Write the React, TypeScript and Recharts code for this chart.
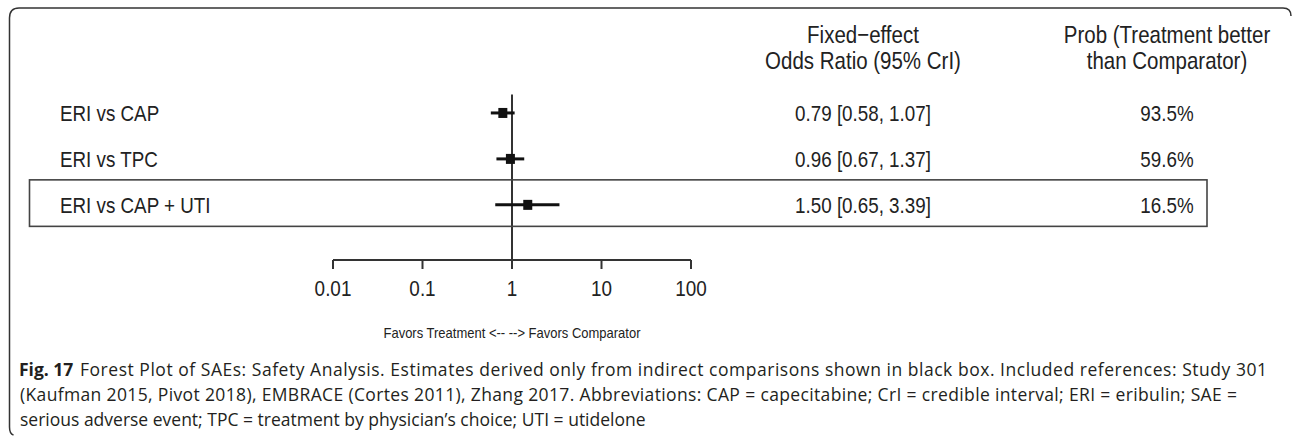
import React from 'react';
import { ScatterChart, Scatter, XAxis, YAxis, ErrorBar, ReferenceLine, Label } from 'recharts';

// ---------- data ----------
const comparisons = ['ERI vs CAP', 'ERI vs TPC', 'ERI vs CAP + UTI'];
const oddsRatios = [0.79, 0.96, 1.5];
const lowerCrI = [0.58, 0.67, 0.65];
const upperCrI = [1.07, 1.37, 3.39];
const probBetter = ['93.5%', '59.6%', '16.5%'];
const indirectOnly = [false, false, true];
const xTicks = [0.01, 0.1, 1, 10, 100];
const headerCI = ['Fixed\u2212effect', 'Odds Ratio (95% CrI)'];
const headerProb = ['Prob (Treatment better', 'than Comparator)'];
const axisLabel = 'Favors Treatment <-- --> Favors Comparator';
const captionBold = 'Fig. 17';
const captionLines = [
  'Forest Plot of SAEs: Safety Analysis. Estimates derived only from indirect comparisons shown in black box. Included references: Study 301',
  '(Kaufman 2015, Pivot 2018), EMBRACE (Cortes 2011), Zhang 2017. Abbreviations: CAP = capecitabine; CrI = credible interval; ERI = eribulin; SAE =',
  'serious adverse event; TPC = treatment by physician\u2019s choice; UTI = utidelone',
];

const fmt = (v: number) => v.toFixed(2);
const rows = comparisons.map((name, i) => ({
  name,
  x: oddsRatios[i],
  y: i + 1,
  err: [oddsRatios[i] - lowerCrI[i], upperCrI[i] - oddsRatios[i]],
  ci: `${fmt(oddsRatios[i])} [${fmt(lowerCrI[i])}, ${fmt(upperCrI[i])}]`,
  prob: probBetter[i],
  boxed: indirectOnly[i],
}));

// ---------- styles ----------
const ARIAL = '"Liberation Sans", Arial, sans-serif';
const CAPTION_FONT = '"Open Sans", "Noto Sans", sans-serif';
const INK = '#222';
const SY = 1.2;

const StretchText = ({ x, y, size, sy = SY, anchor = 'start', family = ARIAL, weight = 'normal', fill = INK, children }: any) => (
  <text
    transform={`translate(${x},${y}) scale(1,${sy})`}
    x={0}
    y={0}
    dy="0.355em"
    fontSize={size}
    fontFamily={family}
    fontWeight={weight}
    textAnchor={anchor}
    fill={fill}
  >
    {children}
  </text>
);

const RowShape = (props: any) => {
  const { cx, cy, payload } = props;
  if (cx == null || cy == null) return null;
  return (
    <g>
      {payload.boxed && (
        <rect x={29.5} y={cy - 25} width={1177.5} height={46.5} fill="none" stroke="#444" strokeWidth={1.6} />
      )}
      <rect x={cx - 4.5} y={cy - 5} width={9} height={10} fill="#111" />
      <StretchText x={60} y={cy} size={18.8}>{payload.name}</StretchText>
      <StretchText x={863} y={cy} size={18.8} anchor="middle">{payload.ci}</StretchText>
      <StretchText x={1167} y={cy} size={18.8} anchor="middle">{payload.prob}</StretchText>
    </g>
  );
};

const AxisTick = (props: any) => {
  const { x, y, payload } = props;
  return (
    <StretchText x={x} y={y + 17} size={18.9} anchor="middle">
      {String(payload.value)}
    </StretchText>
  );
};

const AxisLabelContent = (props: any) => {
  const vb = props.viewBox || {};
  return (
    <StretchText x={vb.x + vb.width / 2} y={vb.y + 73} size={13} sy={1.15} anchor="middle">
      {axisLabel}
    </StretchText>
  );
};

export default function App() {
  return (
    <div style={{ position: 'absolute', left: 0, top: 0, width: 1292, height: 436, background: '#fff' }}>
      <ScatterChart width={1292} height={436} margin={{ top: 67, right: 601, bottom: 96, left: 333 }}>
        <XAxis
          type="number"
          dataKey="x"
          scale="log"
          domain={[0.01, 100]}
          ticks={xTicks}
          interval={0}
          height={80}
          tickSize={9}
          axisLine={{ stroke: '#333', strokeWidth: 2 }}
          tickLine={{ stroke: '#333', strokeWidth: 2 }}
          tick={<AxisTick />}
        >
          <Label content={<AxisLabelContent />} />
        </XAxis>
        <YAxis type="number" dataKey="y" domain={[0, 4.2]} reversed hide />
        <ReferenceLine
          segment={[
            { x: 1, y: 0.6 },
            { x: 1, y: 4.2 },
          ]}
          stroke="#333"
          strokeWidth={2}
          ifOverflow="visible"
        />
        <Scatter data={rows} shape={<RowShape />} isAnimationActive={false}>
          <ErrorBar dataKey="err" direction="x" width={0} strokeWidth={3} stroke="#111" isAnimationActive={false} />
        </Scatter>
      </ScatterChart>
      <svg
        width={1292}
        height={436}
        style={{ position: 'absolute', left: 0, top: 0, pointerEvents: 'none' }}
      >
        <path
          d="M 1291 16 Q 1291 8 1283 8 L 19 8 Q 9.5 8 9.5 18 L 9.5 427 Q 9.5 434 13.5 435"
          fill="none"
          stroke="#333"
          strokeWidth={1.5}
        />
        <StretchText x={863} y={34} size={20.5} anchor="middle">{headerCI[0]}</StretchText>
        <StretchText x={863} y={60} size={20.5} anchor="middle">{headerCI[1]}</StretchText>
        <StretchText x={1167} y={34} size={20.5} anchor="middle">{headerProb[0]}</StretchText>
        <StretchText x={1167} y={60} size={20.5} anchor="middle">{headerProb[1]}</StretchText>
        <text x={19} y={376} fontSize={17.5} fontFamily={CAPTION_FONT} fontWeight="bold" fill="#231f20">
          {captionBold}
        </text>
        <text
          x={80}
          y={376}
          fontSize={17.5}
          fontFamily={CAPTION_FONT}
          fill="#231f20"
          textLength={1187}
          lengthAdjust="spacing"
        >
          {captionLines[0]}
        </text>
        <text
          x={20}
          y={401}
          fontSize={17.5}
          fontFamily={CAPTION_FONT}
          fill="#231f20"
          textLength={1217}
          lengthAdjust="spacing"
        >
          {captionLines[1]}
        </text>
        <text x={20} y={426} fontSize={17.5} fontFamily={CAPTION_FONT} fill="#231f20">
          {captionLines[2]}
        </text>
      </svg>
    </div>
  );
}
